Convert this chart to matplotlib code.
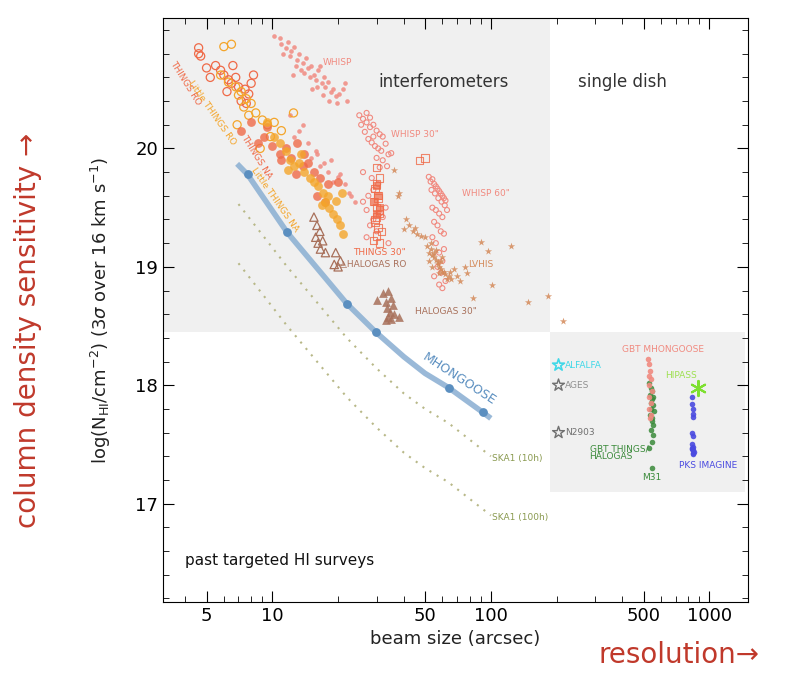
import matplotlib.pyplot as plt
from matplotlib.patches import Rectangle

# ---- data ----
mh_x = [6.9, 7.7, 11.7, 21.9, 29.7, 40, 50, 64, 92, 100]
mh_y = [19.87, 19.78, 19.29, 18.69, 18.45, 18.24, 18.10, 17.98, 17.77, 17.72]
mh_dot_x = [7.7, 11.7, 21.9, 29.7, 64, 92]
mh_dot_y = [19.78, 19.29, 18.69, 18.45, 17.98, 17.77]
ska10_x = [7.0, 11.7, 21.9, 29.7, 40, 50, 64, 100]
ska10_y = [19.53, 19.0, 18.4, 18.15, 17.93, 17.8, 17.68, 17.4]
ska100_x = [7.0, 11.7, 21.9, 29.7, 40, 50, 64, 100]
ska100_y = [19.03, 18.5, 17.9, 17.65, 17.43, 17.3, 17.18, 16.9]

whisp_x = [10.2, 10.8, 11.0, 11.5, 11.8, 12.2, 12.0, 12.6, 13.0, 13.3, 13.8, 14.2, 14.5, 14.0, 15.0, 15.5, 15.8,
           16.2, 16.8, 17.2, 17.5, 18.0, 18.5, 19.0, 19.5, 20.2, 21.0, 22.0, 12.8, 13.5, 14.8, 16.0, 17.0, 18.2,
           19.8, 11.2, 12.4, 15.2, 16.5, 21.5, 12.0, 12.5, 13.2, 14.5, 15.0, 15.8, 16.5, 17.2, 18.0, 19.0, 20.0,
           21.5, 22.5, 24.0, 13.8, 16.0, 18.5, 20.5, 23.0]
whisp_y = [20.95, 20.93, 20.88, 20.85, 20.90, 20.82, 20.78, 20.86, 20.75, 20.80, 20.72, 20.76, 20.68, 20.64, 20.70,
           20.62, 20.58, 20.66, 20.55, 20.60, 20.52, 20.56, 20.48, 20.50, 20.44, 20.46, 20.50, 20.40, 20.70, 20.66,
           20.60, 20.52, 20.45, 20.40, 20.38, 20.80, 20.62, 20.50, 20.70, 20.55, 20.28, 20.10, 20.15, 20.05, 19.92,
           19.98, 19.85, 19.88, 19.80, 19.72, 19.76, 19.70, 19.62, 19.55, 20.20, 19.95, 19.90, 19.78, 19.60]
whisp30_x = [25, 26, 27, 28, 29, 30, 31, 32, 26.5, 27.5, 28.5, 29.5, 30.5, 31.5, 33, 34, 25.5, 27, 28, 29, 30, 32,
             33.5, 35, 26, 28.5, 30.5, 31, 29, 27.5, 26, 27, 29, 31, 33, 28, 30, 32, 27, 34]
whisp30_y = [20.28, 20.25, 20.22, 20.18, 20.20, 20.15, 20.12, 20.10, 20.14, 20.08, 20.05, 20.02, 20.00, 19.98, 20.04,
             19.95, 20.20, 20.30, 20.26, 20.10, 19.92, 19.90, 19.85, 19.96, 19.80, 19.75, 19.70, 19.84, 19.65, 19.60,
             19.55, 19.48, 19.40, 19.45, 19.50, 19.35, 19.30, 19.42, 19.25, 19.20]
whisp60_x = [52, 53, 54, 55, 56, 57, 58, 59, 60, 61, 62, 53.5, 55.5, 57.5, 59.5, 61.5, 54, 56, 58, 60, 63, 55, 57,
             59, 61, 56, 58, 60, 57, 59, 55, 62, 58, 60, 54, 61]
whisp60_y = [19.76, 19.72, 19.74, 19.70, 19.68, 19.66, 19.64, 19.62, 19.60, 19.58, 19.56, 19.65, 19.62, 19.58, 19.55,
             19.52, 19.50, 19.48, 19.45, 19.42, 19.48, 19.38, 19.35, 19.30, 19.28, 19.20, 19.12, 19.05, 19.00, 18.95,
             18.92, 18.88, 18.85, 18.82, 19.25, 19.15]
things30_x = [30, 31, 29.5, 30.5, 29, 30, 31, 30, 29.5, 30.5, 31.5, 30, 29, 31, 30, 30.5, 29.5, 31, 47, 50]
things30_y = [19.84, 19.75, 19.66, 19.60, 19.55, 19.50, 19.48, 19.42, 19.38, 19.33, 19.30, 19.26, 19.22, 19.45,
              19.70, 19.58, 19.40, 19.20, 19.90, 19.92]
things30f_x = [30, 30.5, 31, 29.5, 30]
things30f_y = [19.68, 19.6, 19.5, 19.55, 19.45]
lvhis_x = [51, 52, 53, 54, 55, 56, 57, 58, 59, 60, 62, 64, 66, 68, 70, 72, 53, 55, 57, 59, 61, 63, 56, 60, 65, 52,
           58, 54, 36, 38, 40, 42, 44, 46, 48, 50, 41, 45, 37.5, 90, 97, 123, 148, 182, 213, 83, 101, 76, 78]
lvhis_y = [19.18, 19.12, 19.15, 19.10, 19.08, 19.06, 19.02, 19.00, 18.98, 18.96, 18.94, 18.92, 18.90, 18.98, 18.92,
           18.88, 19.20, 19.12, 19.04, 19.05, 18.96, 18.90, 19.14, 19.08, 18.96, 19.05, 18.95, 19.00, 19.82, 19.62,
           19.32, 19.35, 19.30, 19.28, 19.26, 19.25, 19.40, 19.33, 19.60, 19.21, 19.13, 19.18, 18.70, 18.75, 18.54,
           18.74, 18.85, 19.0, 18.95]
thingsro_x = [4.6, 4.6, 4.7, 5.5, 5.8, 6.0, 6.3, 6.5, 6.8, 7.0, 7.5, 7.8, 8.0, 5.2, 6.2, 7.2, 7.6, 5.0, 6.6, 8.2]
thingsro_y = [20.85, 20.80, 20.78, 20.70, 20.66, 20.62, 20.58, 20.55, 20.60, 20.52, 20.50, 20.46, 20.55, 20.60,
              20.48, 20.40, 20.38, 20.68, 20.70, 20.62]
lthingsro_x = [5.8, 6.3, 6.8, 7.2, 7.6, 8.0, 6.0, 6.5, 7.0, 7.4, 8.4, 9.0, 9.5, 10.2, 11.0, 6.9, 7.8, 9.8, 12.5, 8.8]
lthingsro_y = [20.62, 20.56, 20.52, 20.48, 20.42, 20.38, 20.86, 20.88, 20.45, 20.35, 20.30, 20.24, 20.20, 20.22,
               20.15, 20.20, 20.28, 20.10, 20.30, 20.00]
thingsna_x = [7.2, 8.0, 8.6, 9.2, 10.0, 10.8, 11.5, 12.2, 13.0, 13.8, 14.5, 15.5, 16.5, 18.0, 20.0, 9.5, 11.0, 12.8,
              14.0, 16.0, 17.5]
thingsna_y = [20.15, 20.22, 20.05, 20.10, 20.02, 19.95, 20.00, 19.92, 20.05, 19.85, 19.88, 19.80, 19.75, 19.70,
              19.72, 20.18, 19.90, 19.78, 19.95, 19.60, 19.55]
lthingsna_x = [9.5, 10.2, 10.8, 11.5, 12.0, 12.5, 13.2, 14.0, 14.8, 15.5, 16.2, 17.0, 17.5, 18.2, 19.0, 19.8, 20.5,
               21.0, 18.0, 16.8, 19.5, 20.8, 11.8, 13.5]
lthingsna_y = [20.22, 20.10, 20.05, 19.98, 19.90, 19.85, 19.88, 19.80, 19.75, 19.72, 19.68, 19.62, 19.55, 19.50,
               19.45, 19.40, 19.35, 19.28, 19.60, 19.52, 19.56, 19.62, 19.82, 19.95]
halro_x = [15.5, 16.0, 16.5, 15.8, 16.2, 17.0, 16.6, 17.5, 19.5, 20.5, 20.0, 19.2]
halro_y = [19.42, 19.35, 19.30, 19.25, 19.20, 19.22, 19.15, 19.12, 19.12, 19.05, 19.00, 19.02]
hal30_x = [30, 32, 33, 34, 35, 33.5, 34.5, 35.5, 34, 36, 33, 35, 38]
hal30_y = [18.72, 18.78, 18.70, 18.80, 18.74, 18.65, 18.62, 18.68, 18.58, 18.60, 18.55, 18.56, 18.58]

gbtmh_x = [525, 530, 535, 528, 540, 532, 545, 530, 538, 527, 542, 535]
gbtmh_y = [18.22, 18.18, 18.12, 18.08, 18.05, 18.0, 17.95, 17.90, 17.85, 17.80, 17.75, 17.72]
gbtth_x = [530, 540, 548, 535, 552, 545, 538, 550, 542, 555, 536, 548, 544, 550, 540, 552, 548, 530, 545]
gbtth_y = [18.02, 17.98, 17.95, 17.92, 17.90, 17.88, 17.85, 17.83, 17.80, 17.78, 17.75, 17.72, 17.70, 17.66, 17.62,
           17.58, 17.52, 17.47, 17.30]
pks_x = [830, 835, 840, 840, 845, 835, 840, 830, 845, 835, 840, 850, 838, 842, 832]
pks_y = [17.90, 17.84, 17.80, 17.76, 17.73, 17.60, 17.57, 17.50, 17.48, 17.46, 17.45, 17.44, 17.43, 17.42, 17.47]

# ---- colours ----
c_whisp = "#f08a80"
c_things = "#ef6a48"
c_lthings = "#f4a52a"
c_hal = "#a8705a"
c_lvhis = "#d48a5a"
c_red = "#c0392b"

fig = plt.figure(figsize=(7.99, 6.74), dpi=100)
ax = fig.add_axes([0.204, 0.107, 0.732, 0.866])
ax.set_xscale("log")
ax.set_xlim(3.16, 1500)
ax.set_ylim(16.17, 21.1)

ax.add_patch(Rectangle((3.16, 18.45), 186 - 3.16, 3, color="#f0f0f0", zorder=0, lw=0))
ax.add_patch(Rectangle((186, 17.1), 1450 - 186, 1.35, color="#f0f0f0", zorder=0, lw=0))

ax.plot(ska10_x, ska10_y, ls=(0, (1, 3)), color="#b8b888", lw=1.5)
ax.plot(ska100_x, ska100_y, ls=(0, (1, 3)), color="#b8b888", lw=1.5)
ax.plot(mh_x, mh_y, color="#8fb2d4", lw=4, alpha=0.9, solid_capstyle="butt")
ax.scatter(mh_dot_x, mh_dot_y, s=28, color="#5b8fc0", zorder=3)

ax.scatter(whisp_x, whisp_y, s=11, color=c_whisp, alpha=0.85, lw=0)
ax.scatter(whisp30_x, whisp30_y, s=13, facecolors="none", edgecolors=c_whisp, lw=0.8)
ax.scatter(whisp60_x, whisp60_y, s=13, facecolors="none", edgecolors=c_whisp, lw=0.8)
ax.scatter(things30_x, things30_y, s=28, marker="s", facecolors="none", edgecolors=c_things, lw=0.8, alpha=0.8)
ax.scatter(things30f_x, things30f_y, s=28, marker="s", color=c_things, alpha=0.7, lw=0)
ax.scatter(lvhis_x, lvhis_y, s=30, marker="*", color=c_lvhis, alpha=0.85, lw=0)
ax.scatter(thingsro_x, thingsro_y, s=34, facecolors="none", edgecolors=c_things, lw=0.9)
ax.scatter(lthingsro_x, lthingsro_y, s=34, facecolors="none", edgecolors=c_lthings, lw=0.9)
ax.scatter(thingsna_x, thingsna_y, s=40, color=c_things, alpha=0.8, lw=0)
ax.scatter(lthingsna_x, lthingsna_y, s=40, color=c_lthings, alpha=0.8, lw=0)
ax.scatter(halro_x, halro_y, s=36, marker="^", facecolors="none", edgecolors=c_hal, lw=0.9)
ax.scatter(hal30_x, hal30_y, s=40, marker="^", color=c_hal, alpha=0.85, lw=0)

ax.scatter([204], [18.17], s=80, marker="*", facecolors="none", edgecolors="#40d8e8", lw=1.2)
ax.scatter([204, 204], [18.0, 17.6], s=80, marker="*", facecolors="none", edgecolors="#707070", lw=1.0)
ax.scatter(gbtth_x, gbtth_y, s=16, color="#3a8a3a", alpha=0.85, lw=0)
ax.scatter(gbtmh_x, gbtmh_y, s=16, color=c_whisp, alpha=0.9, lw=0)
ax.scatter(pks_x, pks_y, s=16, color="#4a4ae0", alpha=0.9, lw=0)
ax.scatter([890], [17.98], s=120, marker=(6, 2, 0), color="#7ee030", lw=1.5)

# ---- annotations ----
sm = dict(fontsize=6.5)
ax.text(61, 20.56, "interferometers", fontsize=12, ha="center", va="center", color="#333333")
ax.text(400, 20.56, "single dish", fontsize=12, ha="center", va="center", color="#333333")
ax.text(4.0, 16.52, "past targeted HI surveys", fontsize=11, va="center", color="#111111")
ax.text(17, 20.73, "WHISP", color=c_whisp, va="center", **sm)
ax.text(35, 20.12, 'WHISP 30"', color=c_whisp, va="center", **sm)
ax.text(74, 19.62, 'WHISP 60"', color=c_whisp, va="center", **sm)
ax.text(23.5, 19.12, 'THINGS 30"', color=c_things, va="center", **sm)
ax.text(20.5, 19.02, "△HALOGAS RO", color=c_hal, va="center", **sm)
ax.text(79, 19.02, "LVHIS", color=c_lvhis, va="center", **sm)
ax.text(45, 18.62, 'HALOGAS 30"', color=c_hal, va="center", **sm)
ax.text(4.0, 20.55, "THINGS RO", color=c_things, rotation=-58, ha="center", va="center", **sm)
ax.text(5.3, 20.3, "Little THINGS RO", color=c_lthings, rotation=-55, ha="center", va="center", **sm)
ax.text(8.5, 19.93, "THINGS NA", color=c_things, rotation=-58, ha="center", va="center", **sm)
ax.text(10.3, 19.57, "Little THINGS NA", color=c_lthings, rotation=-55, ha="center", va="center", **sm)
ax.text(72, 18.05, "MHONGOOSE", color="#5b8fc0", fontsize=9, rotation=-33, ha="center", va="center")
ax.text(101, 17.38, "SKA1 (10h)", color="#8a9a50", va="center", **sm)
ax.text(101, 16.88, "SKA1 (100h)", color="#8a9a50", va="center", **sm)
ax.text(615, 18.3, "GBT MHONGOOSE", color=c_whisp, ha="center", va="center", **sm)
ax.text(218, 18.17, "ALFALFA", color="#40d8e8", va="center", **sm)
ax.text(218, 18.0, "AGES", color="#909090", va="center", **sm)
ax.text(218, 17.6, "N2903", color="#707070", va="center", **sm)
ax.text(283, 17.43, "GBT THINGS/\nHALOGAS", color="#3a8a3a", va="center", linespacing=0.9, **sm)
ax.text(545, 17.22, "M31", color="#3a8a3a", ha="center", va="center", **sm)
ax.text(740, 18.08, "HIPASS", color="#9ee050", ha="center", va="center", **sm)
ax.text(990, 17.32, "PKS IMAGINE", color="#4a4ae0", ha="center", va="center", **sm)

ax.set_xticks([5, 10, 50, 100, 500, 1000])
ax.set_xticklabels(["5", "10", "50", "100", "500", "1000"])
ax.set_yticks([17, 18, 19, 20])
ax.set_yticks([16.2 + 0.2 * i for i in range(25)], minor=True)
ax.tick_params(which="both", direction="in", top=True, right=True, labelsize=13)
ax.tick_params(which="major", length=8)
ax.tick_params(which="minor", length=4)
ax.set_xlabel("beam size (arcsec)", fontsize=13, color="#222222")
ax.set_ylabel(r"log(N$_{\rm HI}$/cm$^{-2}$) (3$\sigma$ over 16 km s$^{-1}$)", fontsize=13, color="#222222",
              labelpad=16)

fig.text(0.85, 0.028, "resolution→", color=c_red, fontsize=20, ha="center", va="center")
fig.text(0.035, 0.51, "column density sensitivity →", color=c_red, fontsize=20, rotation=90,
         ha="center", va="center")

fig.savefig("out.png", dpi=100)
